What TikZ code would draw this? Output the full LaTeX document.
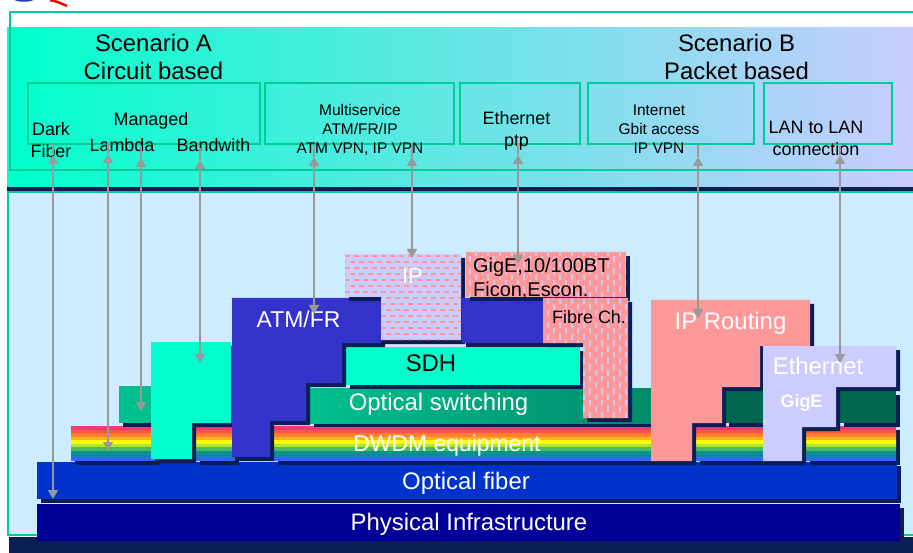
\documentclass[tikz,border=0pt]{standalone}
\usepackage{fontspec}
\setmainfont{Liberation Sans}
\usetikzlibrary{arrows.meta}

\definecolor{navyshade}{RGB}{10,30,85}
\definecolor{tealline}{RGB}{0,204,153}
\definecolor{skybg}{RGB}{204,236,255}
\definecolor{panelleft}{RGB}{0,255,204}
\definecolor{panelmid}{RGB}{140,228,228}
\definecolor{panelright}{RGB}{204,204,255}
\definecolor{physblue}{RGB}{0,0,153}
\definecolor{fiberblue}{RGB}{0,51,204}
\definecolor{atmblue}{RGB}{51,51,204}
\definecolor{aqua}{RGB}{0,255,204}
\definecolor{swgreen}{RGB}{0,191,143}
\definecolor{swgreendark}{RGB}{0,140,105}
\definecolor{deepgreen}{RGB}{0,102,80}
\definecolor{salmon}{RGB}{255,153,153}
\definecolor{lavender}{RGB}{204,204,255}
\definecolor{lavdash}{RGB}{214,196,240}
\definecolor{arrowgray}{RGB}{153,153,153}
\definecolor{logoblue}{RGB}{30,60,180}
\definecolor{logocyan}{RGB}{102,204,255}
% rainbow stripes of the DWDM layer, top to bottom
\definecolor{rbA}{RGB}{255,51,119}
\definecolor{rbB}{RGB}{255,85,68}
\definecolor{rbC}{RGB}{255,128,51}
\definecolor{rbD}{RGB}{255,179,25}
\definecolor{rbE}{RGB}{255,255,0}
\definecolor{rbF}{RGB}{179,230,51}
\definecolor{rbG}{RGB}{77,184,102}
\definecolor{rbH}{RGB}{0,153,128}
\definecolor{rbI}{RGB}{26,128,179}
\definecolor{rbJ}{RGB}{51,102,255}

\begin{document}
\begin{tikzpicture}[
    x=1bp, y=-1bp,
    lbl/.style={inner sep=0pt},
    headtxt/.style={font=\fontsize{24}{28}\selectfont},
    svctxt/.style={font=\fontsize{18}{22}\selectfont},
    svcsmall/.style={font=\fontsize{15.5}{19.2}\selectfont},
    slabtxt/.style={font=\fontsize{24}{28}\selectfont},
    svcbox/.style={draw=tealline, line width=1.5bp},
    shd/.style={preaction={fill=navyshade, transform canvas={shift={(4bp,-4bp)}}}},
    slab/.style={shd, fill=#1},
    rainbow/.style={shd, fill=rbA, path picture={
        \foreach \c [count=\i from 0] in {rbA,rbB,rbC,rbD,rbE,rbF,rbG,rbH,rbI,rbJ}
          \fill[\c] (0,426+3.5*\i) rectangle (913,429.6+3.5*\i);}},
    hdash/.style={shd, fill=lavender, path picture={
        \foreach \r in {0,...,7} {
          \draw[salmon, line width=1.2bp, dash pattern=on 5bp off 4bp] (345,256+12*\r) -- (470,256+12*\r);
          \draw[salmon, line width=1.2bp, dash pattern=on 5bp off 4bp] (340.5,262+12*\r) -- (470,262+12*\r);}}},
    vdash/.style={shd, fill=salmon, path picture={
        \foreach \k in {0,...,14} {
          \draw[lavdash, line width=1.5bp, dash pattern=on 6bp off 6bp] (464+12*\k,250) -- (464+12*\k,425);
          \draw[lavdash, line width=1.5bp, dash pattern=on 6bp off 6bp] (470+12*\k,256) -- (470+12*\k,425);}}},
    updown/.style={draw=arrowgray, line width=1.7bp},
    bothtips/.style={arrows={Triangle[width=10bp,length=9bp]-Triangle[width=10bp,length=9bp]}},
]
    \useasboundingbox (0,0) rectangle (913,553);
    \fill[white] (0,0) rectangle (913,553);

    % logo fragment at the top
    \filldraw[fill=logocyan, draw=logoblue, line width=1.5bp] (24,-5) ellipse [x radius=14, y radius=6];
    \draw[red, line width=2.5bp] (50,0) .. controls (58,2) .. (67,6);

    % scenario panel
    \fill[left color=panelleft, middle color=panelmid, right color=panelright] (7,28) rectangle (925,187);
    \draw[svcbox] (10,12) rectangle (925,170);
    \draw[svcbox] (28,83) rectangle (260,144);
    \draw[svcbox] (265,83) rectangle (454,144);
    \draw[svcbox] (460,83) rectangle (580,144);
    \draw[svcbox] (588,83) rectangle (754,144);
    \draw[svcbox] (764,83) rectangle (892,144);
    \fill[navyshade] (7,187) rectangle (925,191);

    % layer panel
    \filldraw[fill=skybg, draw=tealline, line width=1.5bp] (8,192) rectangle (925,535);
    \fill[navyshade] (9,537) rectangle (925,560);

    % layers
    \fill[slab=physblue] (37,504) rectangle (900,541);
    \fill[slab=fiberblue] (37,462) rectangle (897,499);
    \fill[rainbow] (71,426) rectangle (155,461);
    \fill[rainbow] (196,426) rectangle (235,461);
    \fill[rainbow] (274,426) rectangle (652,461);
    \fill[rainbow] (696,426) rectangle (763,461);
    \fill[rainbow] (806,426) rectangle (896,461);
    \fill[slab=swgreen] (119,386) rectangle (151,423);
    \fill[shd, left color=swgreen, right color=swgreendark] (310,388) rectangle (651,423);
    \fill[slab=deepgreen] (725,391) rectangle (763,423);
    \fill[slab=deepgreen] (840,391) rectangle (896,423);
    \fill[slab=aqua] (346,347) rectangle (580,385);

    % services
    \fill[slab=aqua] (151,342) -- (231,342) -- (231,423) -- (192,423) -- (192,459) -- (151,459) -- cycle;
    \fill[slab=atmblue] (232,298) -- (381,298) -- (381,343) -- (342,343) -- (342,383) -- (306,383)
        -- (306,421) -- (270,421) -- (270,457) -- (232,457) -- cycle;
    \fill[hdash] (345,254) -- (461,254) -- (461,340) -- (381,340) -- (381,297) -- (345,297) -- cycle;
    \fill[slab=atmblue] (462,298) rectangle (543,343);
    \fill[vdash] (466,252) rectangle (626,297);
    \fill[vdash] (543,298) -- (628,298) -- (628,418) -- (583,418) -- (583,343) -- (543,343) -- cycle;
    \fill[slab=salmon] (651,300) -- (810,300) -- (810,346) -- (760,346) -- (760,387) -- (722,387)
        -- (722,423) -- (692,423) -- (692,461) -- (651,461) -- cycle;
    \fill[slab=lavender] (763,346) -- (896,346) -- (896,387) -- (836,387) -- (836,427) -- (802,427)
        -- (802,461) -- (763,461) -- cycle;

    % scenario texts
    \node[lbl, headtxt, align=center] (scenA) at (153.5,57.4) {Scenario A\\Circuit based};
    \node[lbl, headtxt, align=center] (scenB) at (736.5,57.4) {Scenario B\\Packet based};
    \node[lbl, svctxt, align=center] (dark) at (51,139.8) {Dark\\Fiber};
    \node[lbl, svctxt, anchor=base] (managed) at (151,126) {Managed};
    \node[lbl, svctxt, anchor=base] (lambda) at (122,151.7) {Lambda};
    \node[lbl, svctxt, anchor=base] (bandw) at (213.5,151.7) {Bandwith};
    \node[lbl, svcsmall, align=center] (multi) at (360,130) {Multiservice\\ATM/FR/IP\\ATM VPN, IP VPN};
    \node[lbl, svctxt, align=center] (ethptp) at (516.5,131.3) {Ethernet\\ptp};
    \node[lbl, svcsmall, align=center] (inet) at (659,129.2) {Internet\\Gbit access\\IP VPN};
    \node[lbl, svctxt, align=center] (lan) at (816,138.3) {LAN to LAN\\connection};

    % layer texts
    \node[lbl, slabtxt, text=white, anchor=base] (phys) at (469,530) {Physical Infrastructure};
    \node[lbl, slabtxt, text=white, anchor=base] (fiber) at (466,489) {Optical fiber};
    \node[lbl, slabtxt, text=white, anchor=base, font=\fontsize{23}{28}\selectfont] (dwdm) at (447,451.7) {DWDM equipment};
    \node[lbl, slabtxt, text=white, anchor=base] (opsw) at (438.5,410.7) {Optical switching};
    \node[lbl, slabtxt, anchor=base] (sdh) at (431,371) {SDH};
    \node[lbl, slabtxt, text=white, anchor=base, font=\fontsize{23}{28}\selectfont] (atm) at (298.5,327.7) {ATM/FR};
    \node[lbl, text=white, anchor=base, font=\fontsize{22}{26}\selectfont] (ip) at (412.5,283.3) {IP};
    \node[lbl, align=left, anchor=west, font=\fontsize{20}{24.7}\selectfont] (gige) at (473,278.4) {GigE,10/100BT\\Ficon,Escon.};
    \node[lbl, svctxt, anchor=base west] (fibre) at (552,323.3) {Fibre Ch.};
    \node[lbl, slabtxt, text=white, anchor=base] (iprout) at (730.5,330) {IP Routing};
    \node[lbl, slabtxt, text=white, anchor=base] (ether) at (818,374) {Ethernet};
    \node[lbl, text=white, anchor=base, font=\fontsize{18}{22}\selectfont\bfseries] (gigeb) at (801.5,407.3) {GigE};

    % service to layer arrows
    \foreach \n/\x/\t/\b in {1/53/155/499, 2/108/154/451, 3/141/158/411, 4/200/160/363, 5/314/157/314,
                             6/412/157/258, 7/518/155/264, 8/698/157/318, 9/840/155/363} {
        \coordinate (up\n) at (\x,\t-12);
        \coordinate (tip\n) at (\x,\t);
        \coordinate (end\n) at (\x,\b);
        \draw[updown] (up\n) -- (tip\n);
        \draw[updown, bothtips] (tip\n) -- (end\n);
    }
\end{tikzpicture}
\end{document}
